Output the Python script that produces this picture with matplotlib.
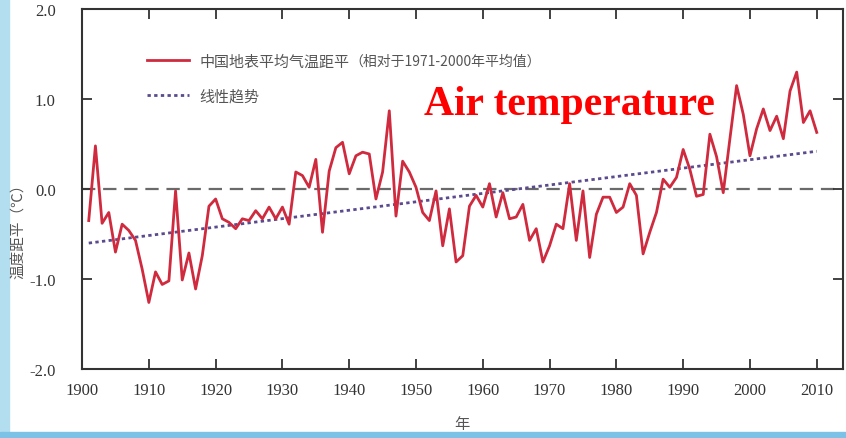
import numpy as np
import matplotlib
matplotlib.use("Agg")
import matplotlib.pyplot as plt
from matplotlib.patches import Rectangle

# annual anomaly of China's mean surface air temperature (vs 1971-2000)
years = list(range(1901, 2011))
anomaly = [
    -0.35, 0.48, -0.38, -0.26, -0.70, -0.39, -0.46, -0.57, -0.89, -1.26,   # 1901-1910
    -0.92, -1.06, -1.02, -0.02, -1.01, -0.71, -1.11, -0.74, -0.19, -0.11,  # 1911-1920
    -0.33, -0.37, -0.44, -0.33, -0.35, -0.24, -0.33, -0.20, -0.33, -0.20,  # 1921-1930
    -0.39, 0.19, 0.15, 0.02, 0.33, -0.48, 0.20, 0.46, 0.52, 0.17,         # 1931-1940
    0.37, 0.41, 0.39, -0.11, 0.19, 0.87, -0.30, 0.31, 0.19, 0.02,         # 1941-1950
    -0.26, -0.35, -0.02, -0.63, -0.22, -0.81, -0.74, -0.19, -0.07, -0.20, # 1951-1960
    0.06, -0.31, -0.04, -0.33, -0.31, -0.17, -0.57, -0.44, -0.81, -0.63,  # 1961-1970
    -0.39, -0.44, 0.06, -0.57, -0.02, -0.76, -0.28, -0.09, -0.09, -0.26,  # 1971-1980
    -0.20, 0.06, -0.07, -0.72, -0.48, -0.26, 0.11, 0.02, 0.13, 0.44,      # 1981-1990
    0.22, -0.08, -0.06, 0.61, 0.36, -0.04, 0.56, 1.15, 0.83, 0.37,        # 1991-2000
    0.67, 0.89, 0.65, 0.81, 0.56, 1.09, 1.30, 0.74, 0.87, 0.63,           # 2001-2010
]
trend_years = [1901, 2010]
trend_values = [-0.60, 0.42]

xticks = list(range(1900, 2011, 10))
yticks = [-2.0, -1.0, 0.0, 1.0, 2.0]

label_main = "中国地表平均气温距平"
label_note = "（相对于1971-2000年平均值）"
label_trend = "线性趋势"

cjk = ["Noto Sans CJK SC", "DejaVu Sans"]
serif = "Liberation Serif"
grey = "#555555"

fig = plt.figure(figsize=(8.46, 4.39), dpi=100)
# slide background strips
fig.patches.append(Rectangle((0, 0), 0.011, 1, transform=fig.transFigure,
                             color="#b3def0", zorder=-5))
fig.patches.append(Rectangle((0, 0), 1, 0.014, transform=fig.transFigure,
                             color="#7cc2e6", zorder=-5))

ax = fig.add_axes([0.097, 0.157, 0.9, 0.82])

line, = ax.plot(years, anomaly, color="#cf2a3e", lw=2.0, zorder=3)
trend, = ax.plot(trend_years, trend_values, color="#5b4a8e", lw=2.0,
                 ls=(0, (1.2, 1.2)), zorder=2)
ax.axhline(0, color="#6a6a6a", lw=1.6, ls=(0, (6, 3.5)), zorder=1)

ax.set_xlim(1900, 2014)
ax.set_ylim(-2, 2)
ax.set_xticks(xticks)
ax.set_yticks(yticks)
ax.set_xticklabels([str(t) for t in xticks])
ax.set_yticklabels(["%.1f" % t for t in yticks])
ax.tick_params(axis="both", direction="in", length=7, width=1.3, color="#333333",
               labelsize=12, labelcolor="#333333", top=True, right=True)
ax.tick_params(axis="x", pad=9)
ax.tick_params(axis="y", pad=19)
for lab in ax.get_xticklabels() + ax.get_yticklabels():
    lab.set_fontfamily(serif)
for s in ax.spines.values():
    s.set_color("#333333")
    s.set_linewidth(1.5)

leg = ax.legend([line, trend], [label_main, label_trend], loc="upper left",
                bbox_to_anchor=(0.085, 0.875), frameon=False, borderpad=0,
                borderaxespad=0, handlelength=2.8, handletextpad=0.7,
                labelspacing=1.35, prop={"family": cjk, "size": 10.8})
for t in leg.get_texts():
    t.set_color(grey)

fig.canvas.draw()
bb = leg.get_texts()[0].get_window_extent()
W, H = fig.canvas.get_width_height()
fig.text(bb.x1 / W, (bb.y0 + bb.y1) / 2 / H, label_note, family=cjk, size=10,
         color=grey, ha="left", va="center")

ax.text(0.640, 0.735, "Air temperature", transform=ax.transAxes, color="red",
        fontsize=30, fontweight="bold", family=serif, ha="center", va="center")

fig.text(18 / 846, 1 - 228 / 439, "温度距平（℃）", rotation=90, family=cjk,
         size=10.5, color=grey, ha="center", va="center")
fig.text(462 / 846, 1 - 425 / 439, "年", family=cjk, size=11, color=grey,
         ha="center", va="center")

fig.savefig("out.png", dpi=100)
